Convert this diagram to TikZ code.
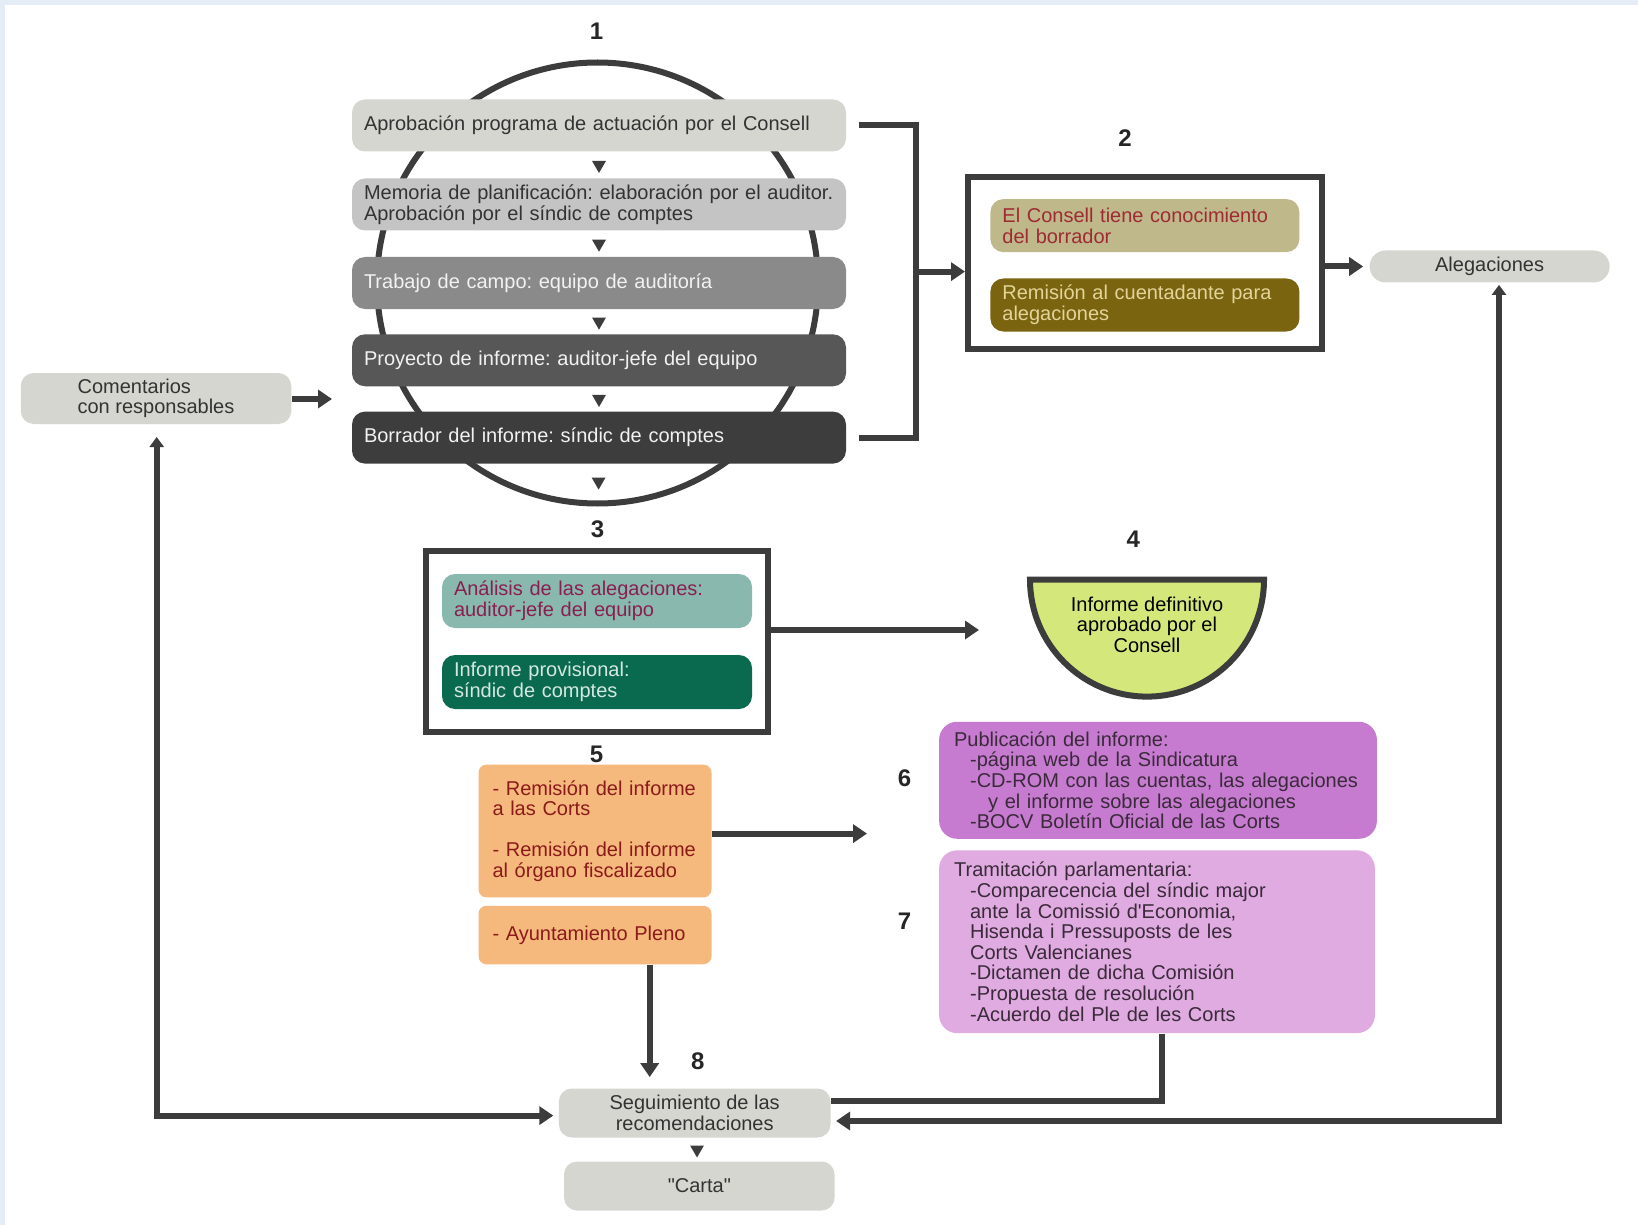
\documentclass[tikz,border=0pt]{standalone}
\usepackage{fontspec}
\setmainfont{Liberation Sans}
\usetikzlibrary{arrows.meta,shapes.geometric}

\definecolor{linegray}{HTML}{3C3C3C}
\definecolor{bgblue}{HTML}{E4ECF5}
\definecolor{palegray}{HTML}{D6D6D0}
\definecolor{tanfill}{HTML}{BFB88A}
\definecolor{tantext}{HTML}{9E2B33}
\definecolor{olivefill}{HTML}{7A6410}
\definecolor{olivetext}{HTML}{E3D49A}
\definecolor{tealfill}{HTML}{88B8AE}
\definecolor{tealtext}{HTML}{8A1F4F}
\definecolor{greenfill}{HTML}{0A6A50}
\definecolor{greentext}{HTML}{D5E8DF}
\definecolor{bowlfill}{HTML}{D3E77B}
\definecolor{orangefill}{HTML}{F6B97D}
\definecolor{orangetext}{HTML}{8B1A1A}
\definecolor{purplefill}{HTML}{C67BD0}
\definecolor{lilacfill}{HTML}{DFABE0}
\definecolor{plumtext}{HTML}{3A2A3A}

\tikzset{
	box/.style={rounded corners=6.5pt, inner xsep=6pt, inner ysep=0pt, align=left, font=\fontsize{10}{10.3}\selectfont\frenchspacing},
	stepbox/.style={box, fill=#1, text width=235pt, minimum height=26pt},
	innerbox/.style={box, fill=#1, minimum height=26.5pt},
	greybox/.style={box, fill=palegray, text=black!80, minimum height=24.5pt, minimum width=135.5pt},
	orangebox/.style={box, fill=orangefill, text=orangetext, rounded corners=4pt, inner xsep=7pt, text width=102.5pt},
	pubbox/.style={box, fill=#1, text=plumtext, rounded corners=9pt, inner xsep=7.5pt},
	frame/.style={draw=linegray, line width=3pt},
	tri/.style={regular polygon, regular polygon sides=3, shape border rotate=180, fill=linegray, inner sep=0pt, minimum size=8pt},
	num/.style={font=\bfseries\fontsize{12}{14}\selectfont, text=black!85},
	conn/.style={draw=linegray, line width=3pt},
	arr/.style={conn, -{Triangle[length=7pt,width=9pt]}},
	twoarr/.style={conn, {Triangle[length=5pt,width=7pt]}-{Triangle[length=7pt,width=9pt]}}
}

\begin{document}
\begin{tikzpicture}[x=0.5pt, y=-0.5pt]
		%%%%% START %%%%%
		
		\fill[white] (0,0) rectangle (1638,1225);
		\fill[bgblue] (0,0) rectangle (1638,5);
		\fill[bgblue] (0,0) rectangle (5,1225);
		\useasboundingbox (0,0) rectangle (1638,1225);
		
		% fase 1
		\draw[line width=3pt, linegray] (597.5,283) circle [radius=110.25pt];
		\node[num] (n1) at (596.5,31.3) {1};
		\node[stepbox=palegray, text=black!80] (aprob) at (599,125.5) {Aprobación programa de actuación por el Consell};
		\node[stepbox=black!23, text=black!80] (memo) at (599,204.5) {Memoria de planificación: elaboración por el auditor.\\Aprobación por el síndic de comptes};
		\node[stepbox=black!46, text=black!5] (campo) at (599,283) {Trabajo de campo: equipo de auditoría};
		\node[stepbox=black!66, text=black!5] (proy) at (599,360.3) {Proyecto de informe: auditor-jefe del equipo};
		\node[stepbox=black!76, text=black!5] (borr) at (599,437.6) {Borrador del informe: síndic de comptes};
		\path (aprob) -- (memo) node[tri, midway] (t1) {};
		\path (memo) -- (campo) node[tri, midway] (t2) {};
		\path (campo) -- (proy) node[tri, midway] (t3) {};
		\path (proy) -- (borr) node[tri, midway] (t4) {};
		\node[tri] (t5) at (598.6,481.6) {};
		
		\node[greybox, minimum width=135.25pt, minimum height=25.5pt] (coment) at (156,398.5) {Comentarios\\con responsables};
		\coordinate (cin) at (332,399);
		\draw[arr] (coment.east |- cin) -- (cin);
		
		% fase 2
		\coordinate (brk) at (916,271.6);
		\draw[conn] ([xshift=6.3pt]aprob.east) -| (brk) |- ([xshift=6.3pt]borr.east);
		\node[num] (n2) at (1125,138) {2};
		\node[frame, minimum width=176.8pt, minimum height=85.8pt] (fase2) at (1144.8,263.2) {};
		\node[innerbox=tanfill, text=tantext, text width=142.5pt] (conoc) at (1144.9,225.6) {El Consell tiene conocimiento\\del borrador};
		\node[innerbox=olivefill, text=olivetext, text width=142.5pt] (remis) at (1144.9,305) {Remisión al cuentadante para\\alegaciones};
		\draw[arr] (brk) -- (brk -| fase2.west);
		
		\node[greybox, minimum width=120pt, minimum height=16pt, rounded corners=8pt, align=center] (aleg) at (1489.6,266.5) {Alegaciones};
		\draw[arr, shorten >=3pt] (fase2.east |- aleg) -- (aleg.west);
		
		% fase 3 y 4
		\node[num] (n3) at (597.5,529.6) {3};
		\node[frame, minimum width=171pt, minimum height=90.5pt] (fase3) at (597,641) {};
		\node[innerbox=tealfill, text=tealtext, text width=143pt, minimum height=27pt] (anal) at (597,601) {Análisis de las alegaciones:\\auditor-jefe del equipo};
		\node[innerbox=greenfill, text=greentext, text width=143pt, minimum height=27pt] (prov) at (597,682) {Informe provisional:\\síndic de comptes};
		
		\node[num] (n4) at (1133.4,539) {4};
		\draw[frame, fill=bowlfill] (1030,579.6) -- (1264,579.6) arc[start angle=0, end angle=-180, radius=58.5pt] -- cycle;
		\node[box, align=center] (defin) at (1147,624.6) {Informe definitivo\\aprobado por el\\Consell};
		\coordinate (bowlin) at (979,630);
		\draw[arr] (fase3.east |- bowlin) -- (bowlin);
		
		% fase 5
		\node[num] (n5) at (596.5,754) {5};
		\node[orangebox, minimum height=66.4pt] (remi) at (595,831) {- Remisión del informe\\a las Corts\\[10.3pt]- Remisión del informe\\al órgano fiscalizado};
		\node[orangebox, minimum height=29.25pt] (ayto) at (595,935) {- Ayuntamiento Pleno};
		\coordinate (pubin) at (867,833.6);
		\draw[arr] (remi.east |- pubin) -- (pubin);
		
		% fase 6 y 7
		\node[num] (n6) at (904.6,778) {6};
		\node[pubbox=purplefill, text width=203.9pt, minimum height=58.5pt] (publ) at (1158,780.3) {Publicación del informe:\\\hspace*{8pt}-página web de la Sindicatura\\\hspace*{8pt}-CD-ROM con las cuentas, las alegaciones\\\hspace*{17pt}y el informe sobre las alegaciones\\\hspace*{8pt}-BOCV Boletín Oficial de las Corts};
		\node[num] (n7) at (904.6,921.3) {7};
		\node[pubbox=lilacfill, text width=202.9pt, minimum height=91.4pt] (tram) at (1157,941.7) {Tramitación parlamentaria:\\\hspace*{8pt}-Comparecencia del síndic major\\\hspace*{8pt}ante la Comissió d\textquotesingle Economia,\\\hspace*{8pt}Hisenda i Pressuposts de les\\\hspace*{8pt}Corts Valencianes\\\hspace*{8pt}-Dictamen de dicha Comisión\\\hspace*{8pt}-Propuesta de resolución\\\hspace*{8pt}-Acuerdo del Ple de les Corts};
		
		% fase 8
		\node[num] (n8) at (697.8,1061.3) {8};
		\node[greybox, align=center, minimum width=135.8pt] (segu) at (694.7,1113) {Seguimiento de las\\recomendaciones};
		\node[greybox, align=center, minimum width=135.3pt] (carta) at (699.3,1186) {\textquotedbl Carta\textquotedbl};
		\path (segu) -- (carta) node[tri, midway] (t6) {};
		
		\coordinate (segin) at (649.7,1076);
		\draw[arr, shorten >=5.5pt] (ayto.south -| segin) -- (segu.north -| segin);
		
		\coordinate (j7) at (1161.6,1101);
		\draw[conn] (tram.south -| j7) -- (j7) -- (segu.east |- j7);
		
		\coordinate (cl) at (156.7,1115.6);
		\draw[twoarr, shorten <=6.3pt, shorten >=2.6pt] (coment.south -| cl) -- (cl) -- (segu.west |- cl);
		
		\coordinate (cr) at (1499,1121);
		\draw[twoarr, shorten <=1pt, shorten >=2.6pt] (aleg.south -| cr) -- (cr) -- (segu.east |- cr);
		
		%%%%% END %%%%%
\end{tikzpicture}
\end{document}
